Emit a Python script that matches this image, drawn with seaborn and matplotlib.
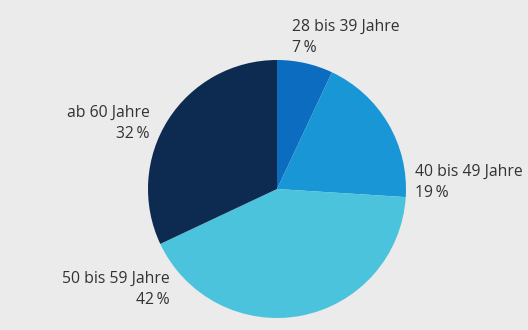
import matplotlib
matplotlib.use("Agg")
import matplotlib.pyplot as plt
import seaborn as sns

categories = ["28 bis 39 Jahre", "40 bis 49 Jahre", "50 bis 59 Jahre", "ab 60 Jahre"]
values = [7, 19, 42, 32]
colors = ["#0b6cc0", "#1996d6", "#4cc3dc", "#0d2a50"]

sns.set_theme(style="white")
plt.rcParams['font.family'] = ['Open Sans', 'DejaVu Sans']

H = 330
fig = plt.figure(figsize=(5.28, 3.30), dpi=100)
fig.patch.set_facecolor("#ebebeb")
ax = fig.add_axes([0, 0, 1, 1])
ax.set_facecolor("#ebebeb")

ax.pie(values, colors=colors, startangle=90, counterclock=False,
       center=(277, H - 189), radius=129, frame=True,
       wedgeprops=dict(linewidth=0))
ax.set_xlim(0, 528)
ax.set_ylim(0, H)
ax.set_aspect("equal")
ax.axis("off")

label_pos = [
    (292, 27, "left"),
    (415, 172, "left"),
    (170, 279, "right"),
    (150, 113, "right"),
]
for cat, val, (x, y, ha) in zip(categories, values, label_pos):
    ax.text(x, H - y, cat, ha=ha, va="center", fontsize=11.3, color="#333333")
    ax.text(x, H - y - 21, f"{val}\u2009%", ha=ha, va="center", fontsize=11.3, color="#333333")

fig.savefig("out.png", dpi=100, facecolor=fig.get_facecolor())
